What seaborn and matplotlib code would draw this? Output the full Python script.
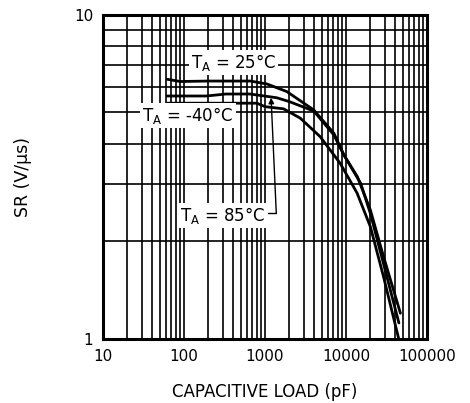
import seaborn as sns
import matplotlib.pyplot as plt
import matplotlib.ticker as mticker
import pandas as pd
import numpy as np

sns.set_style("white")
plt.rcParams['font.family'] = ['DejaVu Sans']
plt.rcParams['text.color'] = 'black'
plt.rcParams['axes.labelcolor'] = 'black'

# Slew rate vs capacitive load
load_25 = [62, 90, 200, 660, 1060, 1860, 4000, 7100, 9400, 13800, 20000, 29000, 47000]
sr_25 = [6.33, 6.23, 6.25, 6.25, 6.12, 5.80, 5.09, 4.31, 3.70, 3.17, 2.50, 1.80, 1.20]

load_85 = [62, 190, 330, 650, 800, 1400, 2000, 4000, 7100, 9400, 15200, 20000, 29000, 45000]
sr_85 = [5.62, 5.62, 5.70, 5.70, 5.66, 5.55, 5.40, 5.05, 4.26, 3.70, 3.02, 2.44, 1.71, 1.12]

load_m40 = [62, 795, 1000, 1700, 2730, 4800, 8500, 13700, 20000, 29000, 44800]
sr_m40 = [5.34, 5.34, 5.21, 5.13, 4.80, 4.21, 3.48, 2.82, 2.22, 1.56, 1.00]

df = pd.concat([
    pd.DataFrame({'load': load_25, 'sr': sr_25, 'temp': '25'}),
    pd.DataFrame({'load': load_85, 'sr': sr_85, 'temp': '85'}),
    pd.DataFrame({'load': load_m40, 'sr': sr_m40, 'temp': '-40'}),
])

fig = plt.figure(figsize=(4.70, 4.03), dpi=100)
ax = fig.add_axes([0.219, 0.159, 0.6895, 0.804])

sns.lineplot(data=df, x='load', y='sr', units='temp', estimator=None, sort=False,
             color='black', linewidth=2.0, ax=ax, legend=False)

ax.set_xscale('log')
ax.set_yscale('log')
ax.set_xlim(10, 100000)
ax.set_ylim(1, 10)

ax.set_xticks([10, 100, 1000, 10000, 100000])
ax.set_xticklabels(['10', '100', '1000', '10000', '100000'])
ax.set_yticks([1, 10])
ax.set_yticklabels(['1', '10'])
ax.xaxis.set_minor_locator(mticker.LogLocator(base=10, subs=np.arange(2, 10)))
ax.yaxis.set_minor_locator(mticker.LogLocator(base=10, subs=np.arange(2, 10)))
ax.xaxis.set_minor_formatter(mticker.NullFormatter())
ax.yaxis.set_minor_formatter(mticker.NullFormatter())
ax.tick_params(which='both', length=0, labelsize=11, colors='black')
ax.tick_params(axis='x', pad=7)
ax.tick_params(axis='y', pad=7)

ax.grid(True, which='both', color='black', linewidth=1.2)
ax.set_axisbelow(True)
for s in ax.spines.values():
    s.set_linewidth(2.2)
    s.set_color('black')

ax.set_xlabel('CAPACITIVE LOAD (pF)', fontsize=12, labelpad=14)
ax.set_ylabel('SR (V/\u03bcs)', fontsize=12.5, labelpad=30)

box = dict(facecolor='white', edgecolor='none', pad=1.5)
ax.text(410, 7.13, r'T$_\mathregular{A}$ = 25°C', fontsize=12, ha='center', va='center', bbox=box)
ax.text(112, 4.88, r'T$_\mathregular{A}$ = -40°C', fontsize=12, ha='center', va='center', bbox=box)
ax.text(300, 2.41, r'T$_\mathregular{A}$ = 85°C', fontsize=12, ha='center', va='center', bbox=box)

ax.plot([1090, 1380], [2.44, 2.44], color='black', linewidth=1)
ax.annotate('', xy=(1190, 5.55), xytext=(1380, 2.44),
            arrowprops=dict(arrowstyle='-|>', color='black', lw=1, shrinkA=0, shrinkB=0,
                            mutation_scale=8))

fig.savefig('out.png', dpi=100)
plt.close()
